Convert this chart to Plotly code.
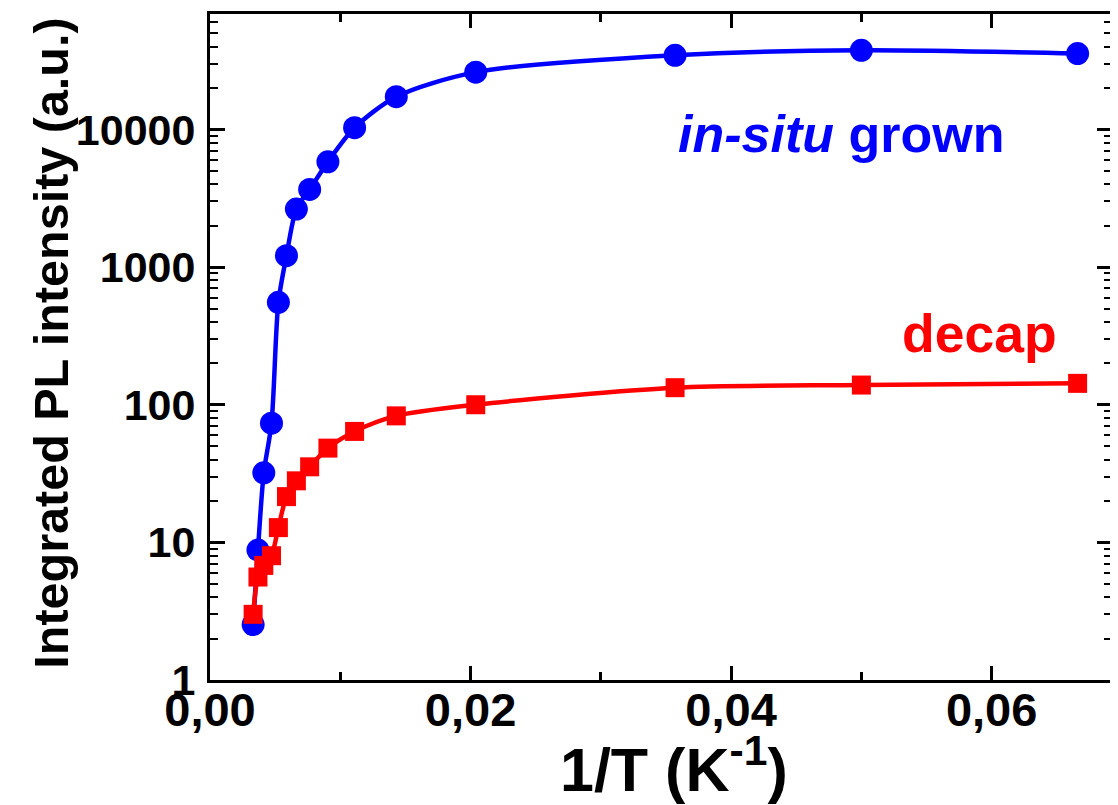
import plotly.graph_objects as go

# 1/T values (K^-1)
inv_T = [0.00331, 0.00368, 0.00413, 0.00472, 0.00525, 0.00587, 0.00663, 0.00765,
         0.00905, 0.0111, 0.0143, 0.0204, 0.0357, 0.0500, 0.0666]
insitu = [2.53, 8.8, 32, 73.5, 555, 1210, 2640, 3670, 5820, 10300, 17300, 26100,
          34600, 37600, 35600]
decap = [3.0, 5.6, 6.8, 8.0, 12.8, 21.5, 28, 35.4, 48.4, 64, 83, 100, 133, 139, 143]

x_tickvals = [0.0, 0.02, 0.04, 0.06]
x_ticktext = ["0,00", "0,02", "0,04", "0,06"]
x_minor = [0.01, 0.03, 0.05]
y_tickvals = [1, 10, 100, 1000, 10000]
y_ticktext = ["1", "10", "100", "1000", "10000"]
y_minor = [m * 10 ** k for k in range(0, 5) for m in range(2, 10)]

FONT = "Liberation Sans, Arial, sans-serif"

fig = go.Figure()
fig.add_trace(go.Scatter(
    x=inv_T, y=insitu, mode="lines+markers", name="in-situ grown",
    line=dict(color="#0000ff", width=4.5, shape="spline", smoothing=0.8),
    marker=dict(symbol="circle", size=23, color="#0000ff"),
))
fig.add_trace(go.Scatter(
    x=inv_T, y=decap, mode="lines+markers", name="decap",
    line=dict(color="#ff0000", width=4.5, shape="spline", smoothing=0.8),
    marker=dict(symbol="square", size=19, color="#ff0000"),
))

axis_common = dict(
    showline=True, linecolor="black", linewidth=3, mirror="ticks",
    ticks="inside", tickcolor="black", tickwidth=3,
    showgrid=False, zeroline=False,
)

fig.update_layout(
    width=1110, height=797,
    margin=dict(l=202, r=3, t=5, b=125),
    paper_bgcolor="white", plot_bgcolor="white",
    showlegend=False,
    font=dict(family=FONT, color="black"),
    xaxis=dict(
        **axis_common,
        range=[0, 0.06924],
        tickmode="array", tickvals=x_tickvals, ticktext=x_ticktext,
        ticklen=14,
        minor=dict(ticks="inside", ticklen=8, tickwidth=3, tickcolor="black",
                   tickmode="array", tickvals=x_minor, showgrid=False),
        tickfont=dict(family=FONT, size=47, color="black", weight="bold"),
        ticklabelstandoff=-13,
    ),
    yaxis=dict(
        **axis_common,
        type="log", range=[0, 4.839],
        tickmode="array", tickvals=y_tickvals, ticktext=y_ticktext,
        ticklen=15,
        minor=dict(ticks="inside", ticklen=8, tickwidth=2, tickcolor="black",
                   tickmode="array", tickvals=y_minor, showgrid=False),
        tickfont=dict(family=FONT, size=43, color="black", weight="bold"),
        ticklabelstandoff=3,
    ),
    annotations=[
        dict(x=0, y=0.505, xref="paper", yref="paper", xshift=-159,
             showarrow=False, textangle=-90,
             text="Integrated PL intensity (a.u.)", xanchor="center", yanchor="middle",
             font=dict(family=FONT, size=48.5, color="black", weight="bold")),
        dict(x=0.5, y=0, xref="paper", yref="paper", xshift=13, yshift=-85,
             showarrow=False,
             text="1/T (K<sup>-1</sup>)", xanchor="center", yanchor="middle",
             font=dict(family=FONT, size=61, color="black", weight="bold")),
        dict(x=0.04847, y=3.966, xref="x", yref="y", showarrow=False,
             text="<i>in-situ</i> grown", xanchor="center", yanchor="middle",
             font=dict(family=FONT, size=52, color="#0000ff", weight="bold")),
        dict(x=0.0591, y=2.514, xref="x", yref="y", showarrow=False,
             text="decap", xanchor="center", yanchor="middle",
             font=dict(family=FONT, size=53.5, color="#ff0000", weight="bold")),
    ],
)

fig.write_html("out.html")
